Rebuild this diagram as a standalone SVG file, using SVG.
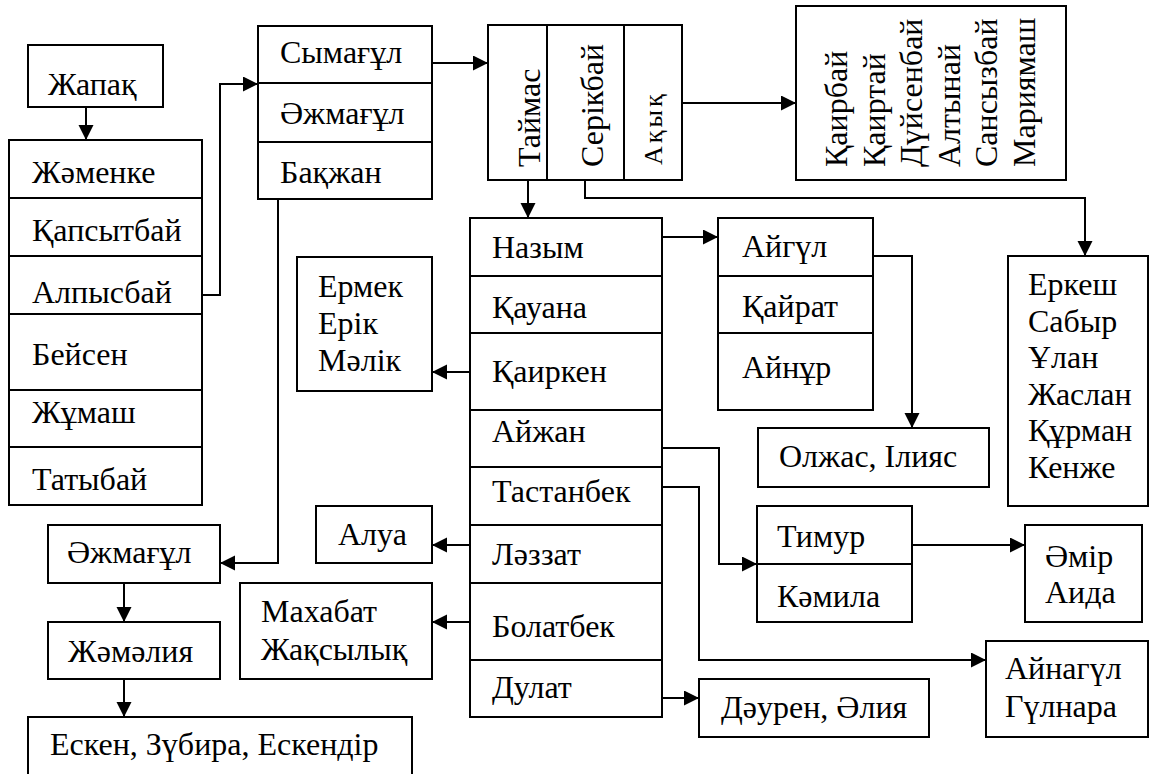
<svg xmlns="http://www.w3.org/2000/svg" width="1153" height="774" viewBox="0 0 1153 774">
<style>
.b{fill:#fff;stroke:#000;stroke-width:2}
.s{stroke:#000;stroke-width:2;fill:none}
.t{font-family:'Liberation Serif','DejaVu Serif',serif;font-size:32px;fill:#000}
.c{stroke:#000;stroke-width:2;fill:none;marker-end:url(#a)}
</style>
<defs>
<marker id="a" markerUnits="userSpaceOnUse" markerWidth="16" markerHeight="16" refX="15" refY="7.5" orient="auto"><path d="M0,0L15,7.5L0,15z" fill="#000"/></marker>
</defs>
<rect width="1153" height="774" fill="#fff"/>
<g id="connectors">
<path class="c" d="M86,107V140"/>
<path class="c" d="M202,295H220V84H258"/>
<path class="c" d="M432,63H488"/>
<path class="c" d="M682,103H796"/>
<path class="c" d="M528,180V218"/>
<path class="c" d="M585,180V198H1085V256"/>
<path class="c" d="M278,199V563H220"/>
<path class="c" d="M124,583V622"/>
<path class="c" d="M124,679V717"/>
<path class="c" d="M662,237H718"/>
<path class="c" d="M873,256H912V428"/>
<path class="c" d="M470,372H432"/>
<path class="c" d="M662,448H719V564H757"/>
<path class="c" d="M662,487H699V660H986"/>
<path class="c" d="M470,545H432"/>
<path class="c" d="M470,622H432"/>
<path class="c" d="M662,698H699"/>
<path class="c" d="M912,545H1025"/>
</g>
<g class="t" font-family="Liberation Serif, DejaVu Serif, serif" font-size="32">
<g id="zhapak"><rect class="b" x="28" y="45" width="135" height="62"/><text x="48" y="95">Жапақ</text></g>
<g id="list1"><rect class="b" x="9" y="140" width="193" height="365"/>
<path class="s" d="M9,198H202M9,256H202M9,314H202M9,390H202M9,447H202"/>
<text x="32" y="183">Жәменке</text><text x="32" y="241">Қапсытбай</text><text x="32" y="303">Алпысбай</text><text x="32" y="365">Бейсен</text><text x="32" y="423">Жұмаш</text><text x="32" y="490">Татыбай</text></g>
<g id="symagul"><rect class="b" x="258" y="26" width="174" height="173"/>
<path class="s" d="M258,83H432M258,142H432"/>
<text x="280" y="63">Сымағұл</text><text x="280" y="124">Әжмағұл</text><text x="280" y="183">Бақжан</text></g>
<g id="taimas"><rect class="b" x="488" y="25" width="194" height="155"/>
<path class="s" d="M547,25V180M624,25V180"/>
<text transform="translate(540,167) rotate(-90)">Таймас</text>
<text transform="translate(603,167) rotate(-90)">Серікбай</text>
<text transform="translate(662,165) rotate(-90)" font-size="26" letter-spacing="3">Ақық</text></g>
<g id="qairbai"><rect class="b" x="796" y="6" width="270" height="174"/>
<text transform="translate(847,167) rotate(-90)">Қаирбай</text>
<text transform="translate(884.5,167) rotate(-90)">Қаиртай</text>
<text transform="translate(922,167) rotate(-90)">Дүйсенбай</text>
<text transform="translate(959.5,167) rotate(-90)">Алтынай</text>
<text transform="translate(997,167) rotate(-90)">Сансызбай</text>
<text transform="translate(1034.5,167) rotate(-90)">Мариямаш</text></g>
<g id="nazym"><rect class="b" x="470" y="218" width="192" height="499"/>
<path class="s" d="M470,276H662M470,333H662M470,410H662M470,467H662M470,525H662M470,583H662M470,660H662"/>
<text x="492" y="258">Назым</text><text x="492" y="318">Қауана</text><text x="492" y="382">Қаиркен</text><text x="492" y="442">Айжан</text><text x="492" y="502">Тастанбек</text><text x="492" y="565">Ләззат</text><text x="492" y="637">Болатбек</text><text x="492" y="698">Дулат</text></g>
<g id="ermek"><rect class="b" x="297" y="257" width="135" height="134"/>
<text x="318" y="297">Ермек</text><text x="318" y="334">Ерік</text><text x="318" y="371">Мәлік</text></g>
<g id="aigul"><rect class="b" x="718" y="218" width="155" height="192"/>
<path class="s" d="M718,276H873M718,333H873"/>
<text x="742" y="257">Айгүл</text><text x="742" y="317">Қайрат</text><text x="742" y="378">Айнұр</text></g>
<g id="erkesh"><rect class="b" x="1008" y="256" width="140" height="250"/>
<text x="1028" y="295">Еркеш</text><text x="1028" y="331.6">Сабыр</text><text x="1028" y="368.2">Ұлан</text><text x="1028" y="404.8">Жаслан</text><text x="1028" y="441.4">Құрман</text><text x="1028" y="478">Кенже</text></g>
<g id="olzhas"><rect class="b" x="758" y="428" width="231" height="59"/><text x="779" y="467">Олжас, Ілияс</text></g>
<g id="timur"><rect class="b" x="757" y="506" width="155" height="116"/>
<path class="s" d="M757,564H912"/>
<text x="777" y="547">Тимур</text><text x="777" y="607">Кәмила</text></g>
<g id="amir"><rect class="b" x="1025" y="525" width="117" height="97"/><text x="1045" y="567">Әмір</text><text x="1045" y="603">Аида</text></g>
<g id="ainagul"><rect class="b" x="986" y="641" width="162" height="96"/><text x="1005" y="679">Айнагүл</text><text x="1005" y="717">Гүлнара</text></g>
<g id="dauren"><rect class="b" x="699" y="679" width="230" height="58"/><text x="721" y="718">Дәурен, Әлия</text></g>
<g id="alua"><rect class="b" x="316" y="506" width="116" height="57"/><text x="338" y="545">Алуа</text></g>
<g id="makhabat"><rect class="b" x="240" y="583" width="192" height="96"/><text x="261" y="622">Махабат</text><text x="261" y="660">Жақсылық</text></g>
<g id="azhmagul2"><rect class="b" x="48" y="525" width="172" height="58"/><text x="67" y="563">Әжмағұл</text></g>
<g id="zhamaliya"><rect class="b" x="48" y="622" width="172" height="57"/><text x="68" y="662">Жәмәлия</text></g>
<g id="esken"><rect class="b" x="28" y="717" width="384" height="62"/><text x="50" y="755">Ескен, Зүбира, Ескендір</text></g>
</g>
</svg>
